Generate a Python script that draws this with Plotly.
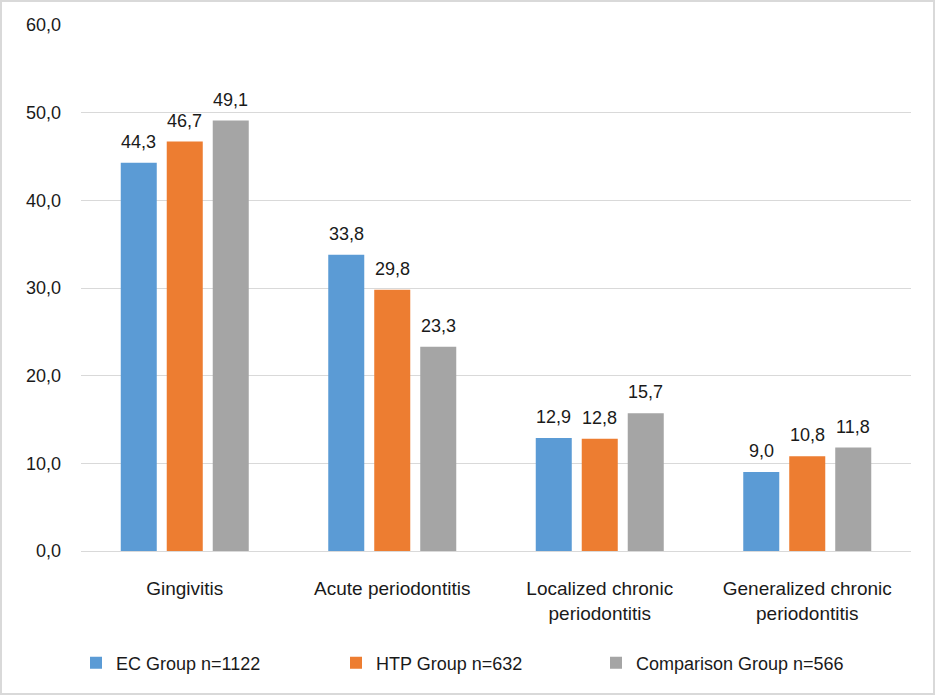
import plotly.graph_objects as go

categories = ['Gingivitis', 'Acute periodontitis', 'Localized chronic<br>periodontitis',
              'Generalized chronic<br>periodontitis']
ec_group = [44.3, 33.8, 12.9, 9.0]
htp_group = [46.7, 29.8, 12.8, 10.8]
comparison_group = [49.1, 23.3, 15.7, 11.8]
series_names = ['EC Group n=1122', 'HTP Group n=632', 'Comparison Group n=566']
y_ticks = [0, 10, 20, 30, 40, 50, 60]

colors = ['#5b9bd5', '#ed7d31', '#a5a5a5']
font_family = 'Liberation Sans, Arial, sans-serif'
txt = '#1a1a1a'

W, H = 935, 695
ml, mr, mt, mb = 81, 24, 25, 144
pw = W - ml - mr
ph = H - mt - mb

# pixel width of one bar slot inside a category group
slot = pw / len(categories) * (1 - 0.335) / 3

fig = go.Figure()
annotations = []
for i, (name, vals, col) in enumerate(zip(series_names, [ec_group, htp_group, comparison_group], colors)):
    fig.add_trace(go.Bar(
        x=categories,
        y=vals,
        name=name,
        marker=dict(color=col, line=dict(width=0)),
    ))
    for cat, v in zip(categories, vals):
        annotations.append(dict(
            x=cat, y=v, xref='x', yref='y',
            text=f'{v:.1f}'.replace('.', ','),
            showarrow=False, yanchor='bottom',
            xshift=(i - 1) * slot, yshift=9,
            font=dict(size=18, color=txt, family=font_family),
        ))

fig.update_layout(
    width=W,
    height=H,
    margin=dict(l=ml, r=mr, t=mt, b=mb),
    separators=',.',
    barmode='group',
    bargap=0.335,
    bargroupgap=0.217,
    plot_bgcolor='white',
    paper_bgcolor='white',
    font=dict(family=font_family, size=18, color=txt),
    showlegend=True,
    legend=dict(orientation='h', x=-5 / pw, xanchor='left', y=-0.213, yanchor='middle',
                font=dict(size=18, color=txt), traceorder='normal',
                entrywidth=215, itemwidth=30),
    xaxis=dict(showgrid=False, showline=True, linecolor='#d9d9d9', linewidth=1,
               ticks='', ticklabelstandoff=20, tickfont=dict(size=19, color=txt)),
    yaxis=dict(range=[0, 60], tickvals=y_ticks, tickformat='.1f', showgrid=True,
               gridcolor='#d9d9d9', gridwidth=1, zeroline=False, showline=False,
               ticks='', ticklabelstandoff=19, tickfont=dict(size=18, color=txt)),
    annotations=annotations,
    shapes=[dict(type='rect', xref='paper', yref='paper',
                 x0=-(ml - 1) / pw, x1=1 + (mr - 1) / pw,
                 y0=-(mb - 1) / ph, y1=1 + (mt - 1) / ph,
                 line=dict(color='#d9d9d9', width=2), layer='below')],
)

fig.write_html("out.html", config={'displayModeBar': False},
               post_script="document.body.style.margin='0';")
